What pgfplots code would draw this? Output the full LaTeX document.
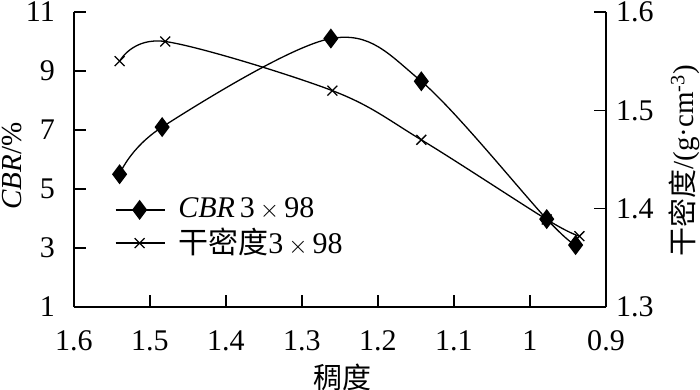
\documentclass[border=0pt]{standalone}
\usepackage{pgfplots}
\pgfplotsset{compat=1.18}
\usepackage{fontspec}
\setmainfont{Liberation Serif}
\newfontfamily\tnr{Liberation Serif}
\newfontfamily\cjk{Noto Sans CJK SC}
\begin{document}
\fontsize{30}{34}\selectfont
\begin{tikzpicture}[x=1pt,y=1pt]
\pgfplotsset{
  common/.style={
    scale only axis, width=532pt, height=295pt,
    xmin=0.9, xmax=1.6, x dir=reverse,
    tick align=inside, major tick length=12pt,
    /pgf/number format/assume math mode=true,
    tick label style={font=\tnr\fontsize{30}{34}\selectfont},
    label style={font=\tnr\fontsize{29}{33}\selectfont},
    axis line style={line width=1.3pt},
    every tick/.style={line width=1.3pt, black},
    legend image code/.code={
      \draw[##1, line width=1.3pt, mark repeat=2, mark phase=2] plot coordinates {(0pt,0pt) (24pt,0pt) (49pt,0pt)};
      \path (60pt,0pt);
    },
  }
}
\begin{axis}[common,
  axis x line*=bottom, axis y line*=left,
  ymin=1, ymax=11, ytick={1,3,5,7,9,11},
  yticklabels={1,3,5,7,9,11},
  xtick={0.9,1,1.1,1.2,1.3,1.4,1.5,1.6},
  xticklabels={0.9,1,1.1,1.2,1.3,1.4,1.5,1.6},
  xticklabel style={yshift=-13pt},
  yticklabel style={xshift=-9pt},
  xlabel={\cjk 稠度},
  ylabel={\textit{CBR}/\%},
  xlabel style={at={(axis description cs:0.504,-0.237)}, anchor=center},
  ylabel style={at={(axis description cs:-0.117,0.478)}, anchor=center},
  legend style={draw=none, fill=none, at={(0.071,0.385)}, anchor=north west,
    font=\tnr\fontsize{30}{34}\selectfont, row sep=2pt},
  legend cell align=left,
]
\addlegendimage{black, line width=1.3pt, mark=diamond*, mark size=9pt, mark options={fill=black}}
\addlegendentry{\textit{CBR}\,3\,$\times$\,98}
\addlegendimage{black, line width=1.3pt, mark=x, mark size=7pt}
\addlegendentry{{\cjk 干密度}3\,$\times$\,98}
\addplot[black, line width=1.3pt, smooth, tension=0.55, mark=diamond*, mark size=9pt, mark options={fill=black}, forget plot]
  coordinates {(1.540,5.5) (1.484,7.1) (1.262,10.1) (1.143,8.65) (0.978,3.98) (0.94,3.1)};
\end{axis}
\begin{axis}[common,
  axis x line=none, axis y line*=right,
  ymin=1.3, ymax=1.6, ytick={1.3,1.4,1.5,1.6},
  yticklabels={1.3,1.4,1.5,1.6},
  yticklabel style={xshift=0pt},
  ylabel={{\cjk 干密度}/(g·cm\textsuperscript{-3})},
  ylabel style={at={(axis description cs:1.147,0.495)}, anchor=center},
]
\addplot[black, line width=1.3pt, smooth, tension=0.55, mark=x, mark size=7pt]
  coordinates {(1.540,1.550) (1.480,1.570) (1.260,1.520) (1.143,1.470) (0.978,1.389) (0.935,1.372)};
\end{axis}
\pgfresetboundingbox
\path[use as bounding box] (-74pt,-83pt) rectangle (626pt,307pt);
\end{tikzpicture}
\end{document}
